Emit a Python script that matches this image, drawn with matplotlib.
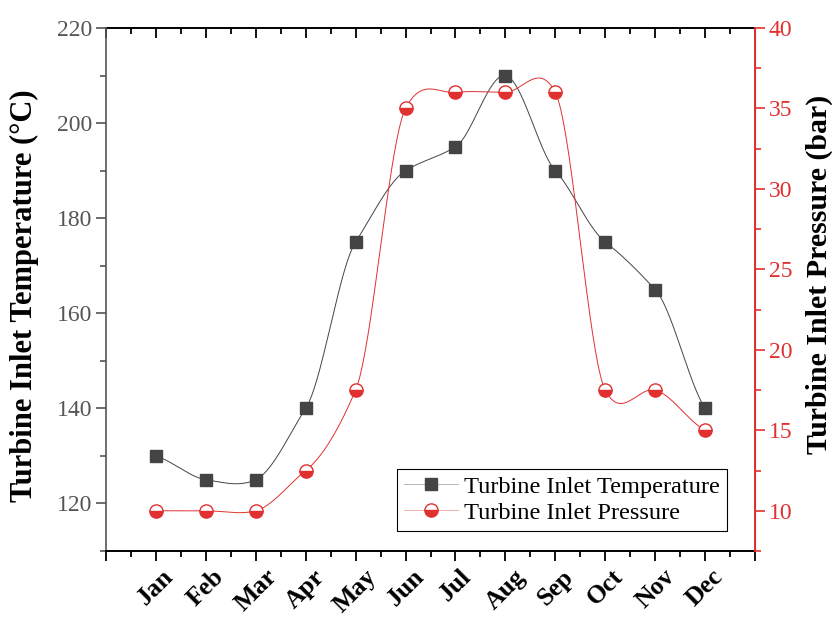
import numpy as np
import matplotlib
matplotlib.use('Agg')
import matplotlib.pyplot as plt
from matplotlib.ticker import MultipleLocator

months = ['Jan', 'Feb', 'Mar', 'Apr', 'May', 'Jun', 'Jul', 'Aug', 'Sep', 'Oct', 'Nov', 'Dec']
temperature = [130, 125, 125, 140, 175, 190, 195, 210, 190, 175, 165, 140]
pressure = [10, 10, 10, 12.5, 17.5, 35, 36, 36, 36, 17.5, 17.5, 15]

RED = '#e03030'
GRAY = '#444444'
TICKGRAY = '#555555'


def smooth(x, y, tension=0.65, n=40):
    # cardinal (Catmull-Rom type) curve through the points, for the connecting line only
    x = np.asarray(x, float)
    y = np.asarray(y, float)
    m = np.zeros_like(y)
    m[1:-1] = (y[2:] - y[:-2]) / (x[2:] - x[:-2])
    m[0] = (y[1] - y[0]) / (x[1] - x[0])
    m[-1] = (y[-1] - y[-2]) / (x[-1] - x[-2])
    m *= tension
    xs, ys = [], []
    for i in range(len(x) - 1):
        h = x[i + 1] - x[i]
        t = np.linspace(0, 1, n, endpoint=(i == len(x) - 2))
        h00 = 2 * t**3 - 3 * t**2 + 1
        h10 = t**3 - 2 * t**2 + t
        h01 = -2 * t**3 + 3 * t**2
        h11 = t**3 - t**2
        xs.append(x[i] + t * h)
        ys.append(h00 * y[i] + h10 * h * m[i] + h01 * y[i + 1] + h11 * h * m[i + 1])
    return np.concatenate(xs), np.concatenate(ys)


plt.rcParams['font.family'] = ['Liberation Serif', 'DejaVu Serif']

x = np.arange(1, len(months) + 1)

fig = plt.figure(figsize=(8.32, 6.21), dpi=100)
ax = fig.add_axes([106 / 832, 70 / 621, 649 / 832, 523 / 621])
ax2 = ax.twinx()

xs, ts = smooth(x, temperature)
ax.plot(xs, ts, color=GRAY, lw=0.7, zorder=2)
ax.plot(x, temperature, ls='None', marker='s', ms=8.5, mfc=GRAY, mec=GRAY, zorder=3)

xs, ps = smooth(x, pressure)
ax2.plot(xs, ps, color=RED, lw=0.7, zorder=2)
ax2.plot(x, pressure, ls='None', marker='o', ms=9.5, fillstyle='bottom',
         mfc=RED, mfcalt='white', mec=RED, mew=1.0, zorder=3)

ax.set_xlim(0, 13)
ax.set_ylim(110, 220)
ax2.set_ylim(7.5, 40)

ax.set_xticks(np.arange(0, 14))
ax.set_xticklabels([''] + months + [''], rotation=45, fontweight='bold', fontsize=18.5,
                   ha='center')
ax.xaxis.set_minor_locator(MultipleLocator(0.5))
ax.set_yticks(np.arange(120, 221, 20))
ax.yaxis.set_minor_locator(MultipleLocator(10))
ax2.yaxis.set_major_locator(MultipleLocator(5))
ax2.yaxis.set_minor_locator(MultipleLocator(2.5))

ax.tick_params(axis='x', which='both', direction='out', pad=3)
ax.tick_params(axis='x', which='major', length=7, width=1.3)
ax.tick_params(axis='x', which='minor', length=4, width=1.3)

top = ax.secondary_xaxis('top')
top.set_xticks(np.arange(0, 14))
top.xaxis.set_minor_locator(MultipleLocator(0.5))
top.tick_params(axis='x', which='both', direction='in', labeltop=False)
top.tick_params(axis='x', which='major', length=7, width=1.3)
top.tick_params(axis='x', which='minor', length=4, width=1.3)
top.spines['top'].set_linewidth(1.4)

ax.tick_params(axis='y', which='major', length=7, width=1.2, labelsize=17,
               labelcolor=TICKGRAY, color=TICKGRAY, pad=3)
ax.tick_params(axis='y', which='minor', length=4, width=1.2, color=TICKGRAY)

ax2.tick_params(axis='y', which='major', length=7, width=1.2, labelsize=17,
                labelcolor=RED, color=RED, pad=3)
ax2.tick_params(axis='y', which='minor', length=4, width=1.2, color=RED)

ax.spines['bottom'].set_linewidth(1.4)
ax.spines['top'].set_visible(False)
for s in ['top', 'bottom', 'left']:
    ax2.spines[s].set_visible(False)
ax.spines['left'].set_color(TICKGRAY)
ax.spines['left'].set_linewidth(1.2)
ax2.spines['right'].set_color(RED)
ax2.spines['right'].set_linewidth(1.4)

ax.set_ylabel('Turbine Inlet Temperature (°C)', fontsize=22, fontweight='bold')
ax.yaxis.set_label_coords(-0.103, 0.4875)
ax2.set_ylabel('Turbine Inlet Pressure (bar)', fontsize=21.5, fontweight='bold')
ax2.yaxis.set_label_coords(1.078, 0.528)

h1 = plt.Line2D([], [], color='#aaaaaa', lw=0.6, marker='s', ms=8.5, mfc=GRAY, mec=GRAY)
h2 = plt.Line2D([], [], color='#f0a0a0', lw=0.6, marker='o', ms=9.5, fillstyle='bottom',
                mfc=RED, mfcalt='white', mec=RED)
leg = ax2.legend([h1, h2], ['Turbine Inlet Temperature', 'Turbine Inlet Pressure'],
                 loc='lower right', bbox_to_anchor=(0.957, 0.038), borderaxespad=0,
                 fontsize=17.6, frameon=True, fancybox=False, framealpha=1,
                 edgecolor='black', handlelength=2.2, borderpad=0.3,
                 labelspacing=0.15, handletextpad=0.25)
leg.get_frame().set_linewidth(0.8)

fig.savefig('out.png', dpi=100)
